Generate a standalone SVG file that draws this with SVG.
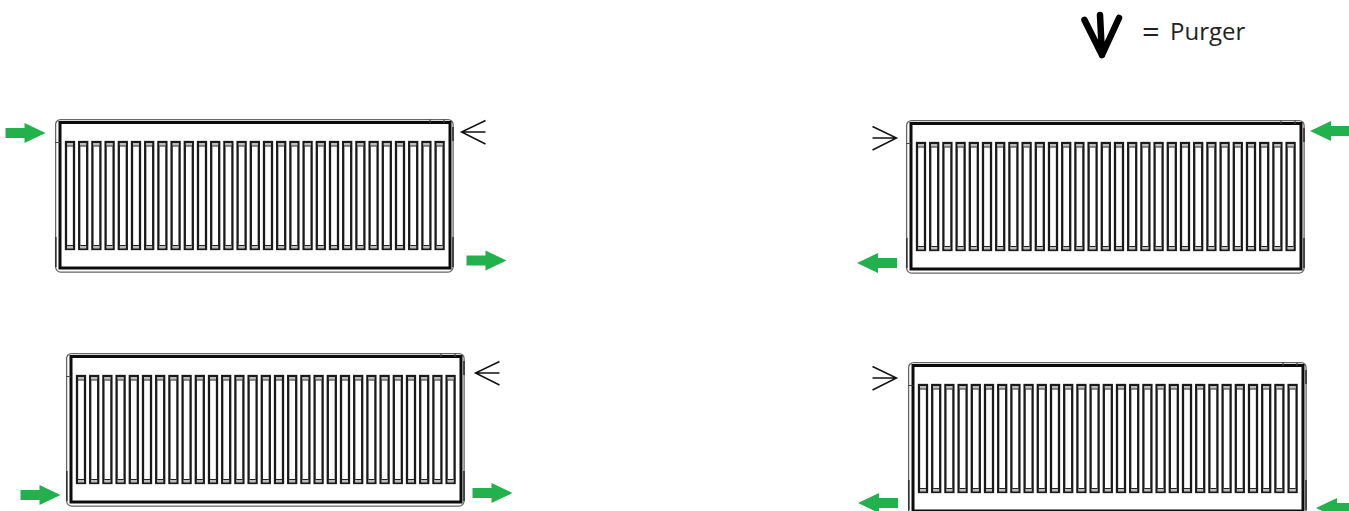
<svg xmlns="http://www.w3.org/2000/svg" width="1349" height="511" viewBox="0 0 1349 511">
<style>
.outer{fill:none;stroke:#666;stroke-width:1.3}
.inner{fill:none;stroke:#0c0c0c;stroke-width:3}
.fin{fill:#fff;stroke:#1a1a1a;stroke-width:2.3}
.cap{fill:#bdbdbd}
.capline{stroke:#222;stroke-width:1.2;fill:none}
.tick{stroke:#444;stroke-width:1.2;fill:none}
.vent{fill:none;stroke:#111;stroke-width:1.5}
.flow{fill:#22b14c}
text{font-family:"Open Sans","Noto Sans",sans-serif;fill:#222}
</style>
<defs>
<g id="finshape"><rect class="fin" x="1" y="1" width="8" height="107"/><rect class="cap" x="2" y="2" width="6" height="2.500"/><rect class="cap" x="2" y="105" width="6" height="2.500"/><path class="capline" d="M2 5H8M2 104.500H8"/></g>
<g id="radiator">
<rect class="outer" x="0.6" y="0.6" width="397.5" height="152.5" rx="5"/>
<rect class="inner" x="5" y="3.500" width="390" height="145.500"/>
<path class="tick" d="M0 23.500H5M375 .6V4M389 .6V4"/>
<path d="M398 8V22M398 118V148M0.800 118V148" stroke="#333" stroke-width="1.6" fill="none"/>
</g>
<path id="flowR" class="flow" d="M0-5H19V-10L40 0 19 10V5H0Z"/>
<path id="flowL" class="flow" d="M40-5H21V-10L0 0 21 10V5H40Z"/>
<path id="ventL" class="vent" d="M24-11.500 0 0 24 12M0 0H24"/>
<path id="ventR" class="vent" d="M0-11.500 24 0 0 12M0 0H24"/>
<g id="fins">
<use href="#finshape" x="0"/><use href="#finshape" x="13.200"/><use href="#finshape" x="26.400"/><use href="#finshape" x="39.600"/><use href="#finshape" x="52.800"/><use href="#finshape" x="66"/><use href="#finshape" x="79.200"/><use href="#finshape" x="92.400"/><use href="#finshape" x="105.600"/><use href="#finshape" x="118.800"/><use href="#finshape" x="132"/><use href="#finshape" x="145.200"/><use href="#finshape" x="158.400"/><use href="#finshape" x="171.600"/><use href="#finshape" x="184.800"/><use href="#finshape" x="198"/><use href="#finshape" x="211.200"/><use href="#finshape" x="224.400"/><use href="#finshape" x="237.600"/><use href="#finshape" x="250.800"/><use href="#finshape" x="264"/><use href="#finshape" x="277.200"/><use href="#finshape" x="290.400"/><use href="#finshape" x="303.600"/><use href="#finshape" x="316.800"/><use href="#finshape" x="330"/><use href="#finshape" x="343.200"/><use href="#finshape" x="356.400"/><use href="#finshape" x="369.600"/>
</g>
</defs>
<rect width="1349" height="511" fill="#fff"/>
<g id="radiator-1" transform="translate(55 119)"><use href="#radiator"/><use href="#fins" x="10" y="22"/></g>
<g id="radiator-2" transform="translate(906 120)"><use href="#radiator"/><use href="#fins" x="10" y="22"/></g>
<g id="radiator-3" transform="translate(66 353)"><use href="#radiator"/><use href="#fins" x="10" y="22"/></g>
<g id="radiator-4" transform="translate(908 362)"><use href="#radiator"/><use href="#fins" x="10" y="22"/></g>
<g id="connectors">
<use href="#flowR" x="5.500" y="133"/>
<use href="#flowR" x="466.500" y="260.500"/>
<use href="#flowL" x="1310" y="131"/>
<use href="#flowL" x="857" y="263"/>
<use href="#flowR" x="20.500" y="495"/>
<use href="#flowR" x="472.500" y="493"/>
<use href="#flowL" x="858" y="503"/>
<use href="#flowL" x="1316" y="508"/>
<use href="#ventL" x="461.500" y="132"/>
<use href="#ventR" x="872.500" y="138"/>
<use href="#ventL" x="475.500" y="373"/>
<use href="#ventR" x="872.500" y="378"/>
</g>
<g id="legend">
<path d="M1084.500 20 1102 55 1119 18M1100 15 1102 55" fill="none" stroke="#000" stroke-width="6.500" stroke-linecap="round" stroke-linejoin="round"/>
<text font-size="24"><tspan x="1142" y="43" font-size="31">=</tspan><tspan x="1170" y="40">Purger</tspan></text>
</g>
</svg>
